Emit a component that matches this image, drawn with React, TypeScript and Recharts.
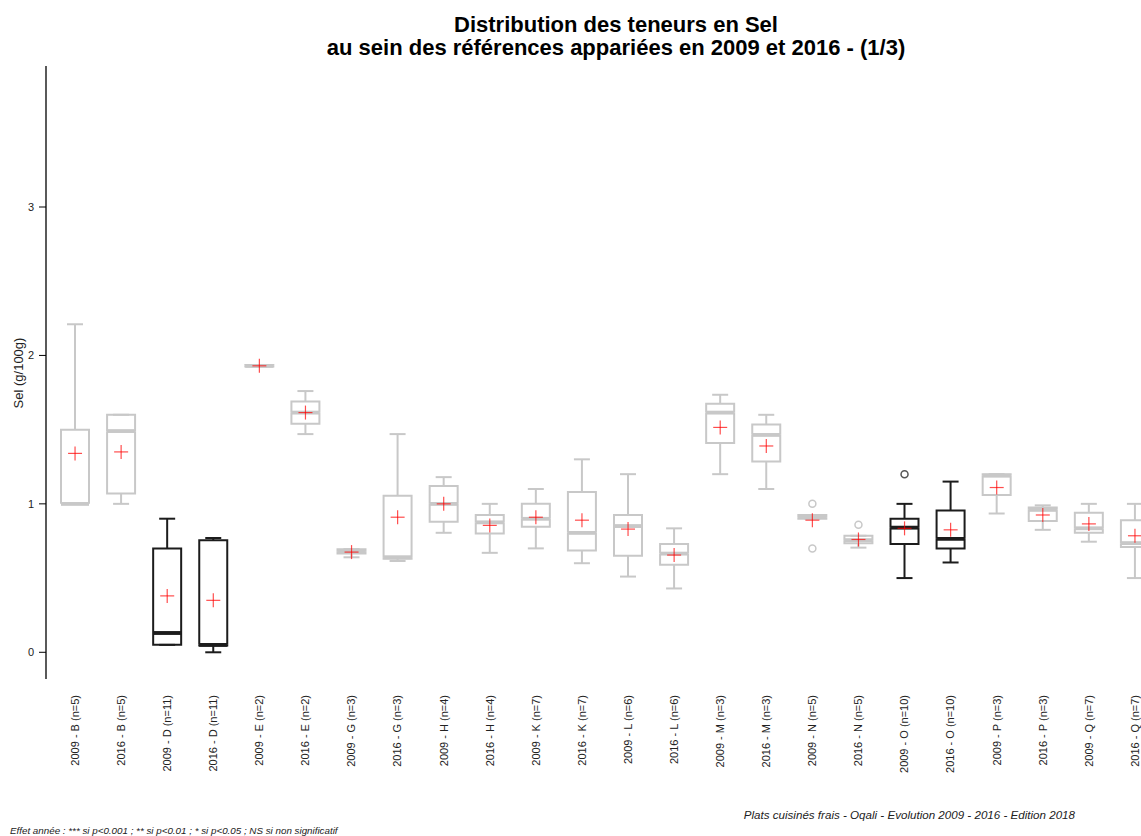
import React from "react";
import { ComposedChart, Bar, Scatter, XAxis, YAxis } from "recharts";

// boxes in display order (year - product group (n))
const categories = [
  "2009 - B (n=5)", "2016 - B (n=5)", "2009 - D (n=11)", "2016 - D (n=11)",
  "2009 - E (n=2)", "2016 - E (n=2)", "2009 - G (n=3)", "2016 - G (n=3)",
  "2009 - H (n=4)", "2016 - H (n=4)", "2009 - K (n=7)", "2016 - K (n=7)",
  "2009 - L (n=6)", "2016 - L (n=6)", "2009 - M (n=3)", "2016 - M (n=3)",
  "2009 - N (n=5)", "2016 - N (n=5)", "2009 - O (n=10)", "2016 - O (n=10)",
  "2009 - P (n=3)", "2016 - P (n=3)", "2009 - Q (n=7)", "2016 - Q (n=7)",
];

const whiskerLow = [1.0, 1.0, 0.05, 0.0, 1.925, 1.47, 0.64, 0.615, 0.805, 0.67, 0.7, 0.6, 0.51, 0.43, 1.2, 1.1, 0.9, 0.705, 0.5, 0.605, 0.935, 0.825, 0.745, 0.5];
const q1 = [1.0, 1.07, 0.05, 0.045, 1.925, 1.54, 0.665, 0.63, 0.88, 0.8, 0.845, 0.685, 0.65, 0.59, 1.41, 1.285, 0.9, 0.735, 0.73, 0.7, 1.06, 0.885, 0.805, 0.71];
const medians = [1.0, 1.49, 0.13, 0.05, 1.93, 1.615, 0.68, 0.64, 1.0, 0.875, 0.9, 0.805, 0.85, 0.665, 1.615, 1.465, 0.91, 0.755, 0.84, 0.765, 1.19, 0.96, 0.835, 0.735];
const q3 = [1.5, 1.6, 0.7, 0.755, 1.935, 1.69, 0.695, 1.055, 1.12, 0.925, 1.0, 1.08, 0.925, 0.73, 1.675, 1.535, 0.925, 0.785, 0.9, 0.955, 1.2, 0.975, 0.94, 0.89];
const whiskerHigh = [2.21, 1.6, 0.9, 0.77, 1.935, 1.76, 0.695, 1.47, 1.18, 1.0, 1.1, 1.3, 1.2, 0.835, 1.735, 1.6, 0.925, 0.785, 1.0, 1.15, 1.2, 0.99, 1.0, 1.0];
const means = [1.34, 1.35, 0.38, 0.35, 1.93, 1.615, 0.675, 0.91, 1.0, 0.855, 0.91, 0.89, 0.83, 0.655, 1.515, 1.39, 0.89, 0.76, 0.835, 0.825, 1.11, 0.925, 0.865, 0.785];
const outlierA: (number | null)[] = [null, null, null, null, null, null, null, null, null, null, null, null, null, null, null, null, 1.0, 0.86, 1.2, null, null, null, null, null];
const outlierB: (number | null)[] = [null, null, null, null, null, null, null, null, null, null, null, null, null, null, null, null, 0.7, null, null, null, null, null, null, null];
// groups with a significant year effect are drawn in black
const significant = ["D", "O"];

const yTicks = [0, 1, 2, 3];

const data = categories.map((name, i) => ({
  name,
  dark: significant.includes(name.split(" - ")[1].charAt(0)),
  base: whiskerLow[i],
  lowW: q1[i] - whiskerLow[i],
  lowBox: medians[i] - q1[i],
  upBox: q3[i] - medians[i],
  upW: whiskerHigh[i] - q3[i],
  mean: means[i],
  out1: outlierA[i],
  out2: outlierB[i],
}));

const FONT = '"Liberation Sans", Arial, sans-serif';
const colorOf = (p: any) => (p && p.dark ? "#1c1c1c" : "#c8c8c8");
const CAP = 8;

const Empty = () => <g />;

const LowWhisker = (props: any) => {
  const { x, y, width, height, payload } = props;
  const cx = x + width / 2;
  const c = colorOf(payload);
  return (
    <g>
      <line x1={cx} x2={cx} y1={y} y2={y + height} stroke={c} strokeWidth={2} />
      <line x1={cx - CAP} x2={cx + CAP} y1={y + height} y2={y + height} stroke={c} strokeWidth={2} />
    </g>
  );
};

const HighWhisker = (props: any) => {
  const { x, y, width, height, payload } = props;
  const cx = x + width / 2;
  const c = colorOf(payload);
  return (
    <g>
      <line x1={cx} x2={cx} y1={y} y2={y + height} stroke={c} strokeWidth={2} />
      <line x1={cx - CAP} x2={cx + CAP} y1={y} y2={y} stroke={c} strokeWidth={2} />
    </g>
  );
};

const LowerBox = (props: any) => {
  const { x, y, width, height, payload } = props;
  const c = colorOf(payload);
  return (
    <g>
      <path d={`M${x},${y} L${x},${y + height} L${x + width},${y + height} L${x + width},${y}`} fill="none" stroke={c} strokeWidth={2} />
      <line x1={x} x2={x + width} y1={y} y2={y} stroke={c} strokeWidth={3.5} />
    </g>
  );
};

const UpperBox = (props: any) => {
  const { x, y, width, height, payload } = props;
  const c = colorOf(payload);
  return (
    <g>
      <path d={`M${x},${y + height} L${x},${y} L${x + width},${y} L${x + width},${y + height}`} fill="none" stroke={c} strokeWidth={2} />
      <line x1={x} x2={x + width} y1={y + height} y2={y + height} stroke={c} strokeWidth={3.5} />
    </g>
  );
};

const MeanCross = (props: any) => {
  const { cx, cy } = props;
  if (cx == null || cy == null || isNaN(cy)) return <g />;
  return (
    <g stroke="#ff0000" strokeOpacity={0.7} strokeWidth={1.2}>
      <line x1={cx - 7} x2={cx + 7} y1={cy} y2={cy} />
      <line x1={cx} x2={cx} y1={cy - 7} y2={cy + 7} />
    </g>
  );
};

const Outlier = (props: any) => {
  const { cx, cy, payload } = props;
  if (cx == null || cy == null || isNaN(cy)) return <g />;
  return <circle cx={cx} cy={cy} r={3.5} fill="none" stroke={payload && payload.dark ? "#555" : "#c8c8c8"} strokeWidth={1.5} />;
};

const XTick = (props: any) => {
  const { x, y, payload } = props;
  return (
    <text
      x={x}
      y={y}
      dy="0.35em"
      transform={`rotate(-90, ${x}, ${y})`}
      textAnchor="end"
      fontSize={11}
      fontFamily={FONT}
      fill="#222"
    >
      {payload.value}
    </text>
  );
};

export default function App() {
  return (
    <div
      style={{
        position: "fixed",
        left: 0,
        top: 0,
        width: 1141,
        height: 836,
        overflow: "hidden",
        background: "#fff",
        fontFamily: FONT,
      }}
    >
      <div
        style={{
          position: "absolute",
          left: 166,
          top: 13,
          width: 900,
          textAlign: "center",
          fontWeight: "bold",
          fontSize: 22,
          lineHeight: "23px",
          color: "#000",
        }}
      >
        <div>Distribution des teneurs en Sel</div>
        <div>au sein des références appariées en 2009 et 2016 - (1/3)</div>
      </div>
      <div
        style={{
          position: "absolute",
          left: 18,
          top: 373,
          transform: "translate(-50%, -50%) rotate(-90deg)",
          whiteSpace: "nowrap",
          fontSize: 13,
          color: "#222",
        }}
      >
        Sel (g/100g)
      </div>
      <ComposedChart
        width={1158}
        height={836}
        data={data}
        margin={{ top: 66, right: 0, bottom: 0, left: 0 }}
        barSize={28}
      >
        <XAxis
          dataKey="name"
          type="category"
          interval={0}
          axisLine={false}
          tickLine={false}
          tickSize={0}
          tickMargin={16}
          height={157}
          padding={{ left: 6, right: 0 }}
          tick={<XTick />}
        />
        <YAxis
          type="number"
          domain={[-0.18, 3.95]}
          ticks={yTicks}
          allowDataOverflow
          width={46}
          axisLine={{ stroke: "#000", strokeWidth: 1.3 }}
          tickLine={{ stroke: "#000" }}
          tickSize={7}
          tickMargin={5}
          tick={{ fontSize: 11, fill: "#222", fontFamily: FONT }}
        />
        <Bar dataKey="base" stackId="box" shape={<Empty />} isAnimationActive={false} />
        <Bar dataKey="lowW" stackId="box" shape={<LowWhisker />} isAnimationActive={false} />
        <Bar dataKey="lowBox" stackId="box" shape={<LowerBox />} isAnimationActive={false} />
        <Bar dataKey="upBox" stackId="box" shape={<UpperBox />} isAnimationActive={false} />
        <Bar dataKey="upW" stackId="box" shape={<HighWhisker />} isAnimationActive={false} />
        <Scatter dataKey="out1" shape={<Outlier />} isAnimationActive={false} />
        <Scatter dataKey="out2" shape={<Outlier />} isAnimationActive={false} />
        <Scatter dataKey="mean" shape={<MeanCross />} isAnimationActive={false} />
      </ComposedChart>
      <div
        style={{
          position: "absolute",
          right: 66,
          top: 808,
          fontSize: 11.6,
          lineHeight: "13px",
          fontStyle: "italic",
          color: "#222",
          whiteSpace: "nowrap",
        }}
      >
        Plats cuisinés frais - Oqali - Evolution 2009 - 2016 - Edition 2018
      </div>
      <div
        style={{
          position: "absolute",
          left: 10,
          top: 825,
          fontSize: 9.8,
          lineHeight: "11px",
          fontStyle: "italic",
          color: "#222",
          whiteSpace: "nowrap",
        }}
      >
        Effet année : *** si p&lt;0.001 ; ** si p&lt;0.01 ; * si p&lt;0.05 ; NS si non significatif
      </div>
    </div>
  );
}
